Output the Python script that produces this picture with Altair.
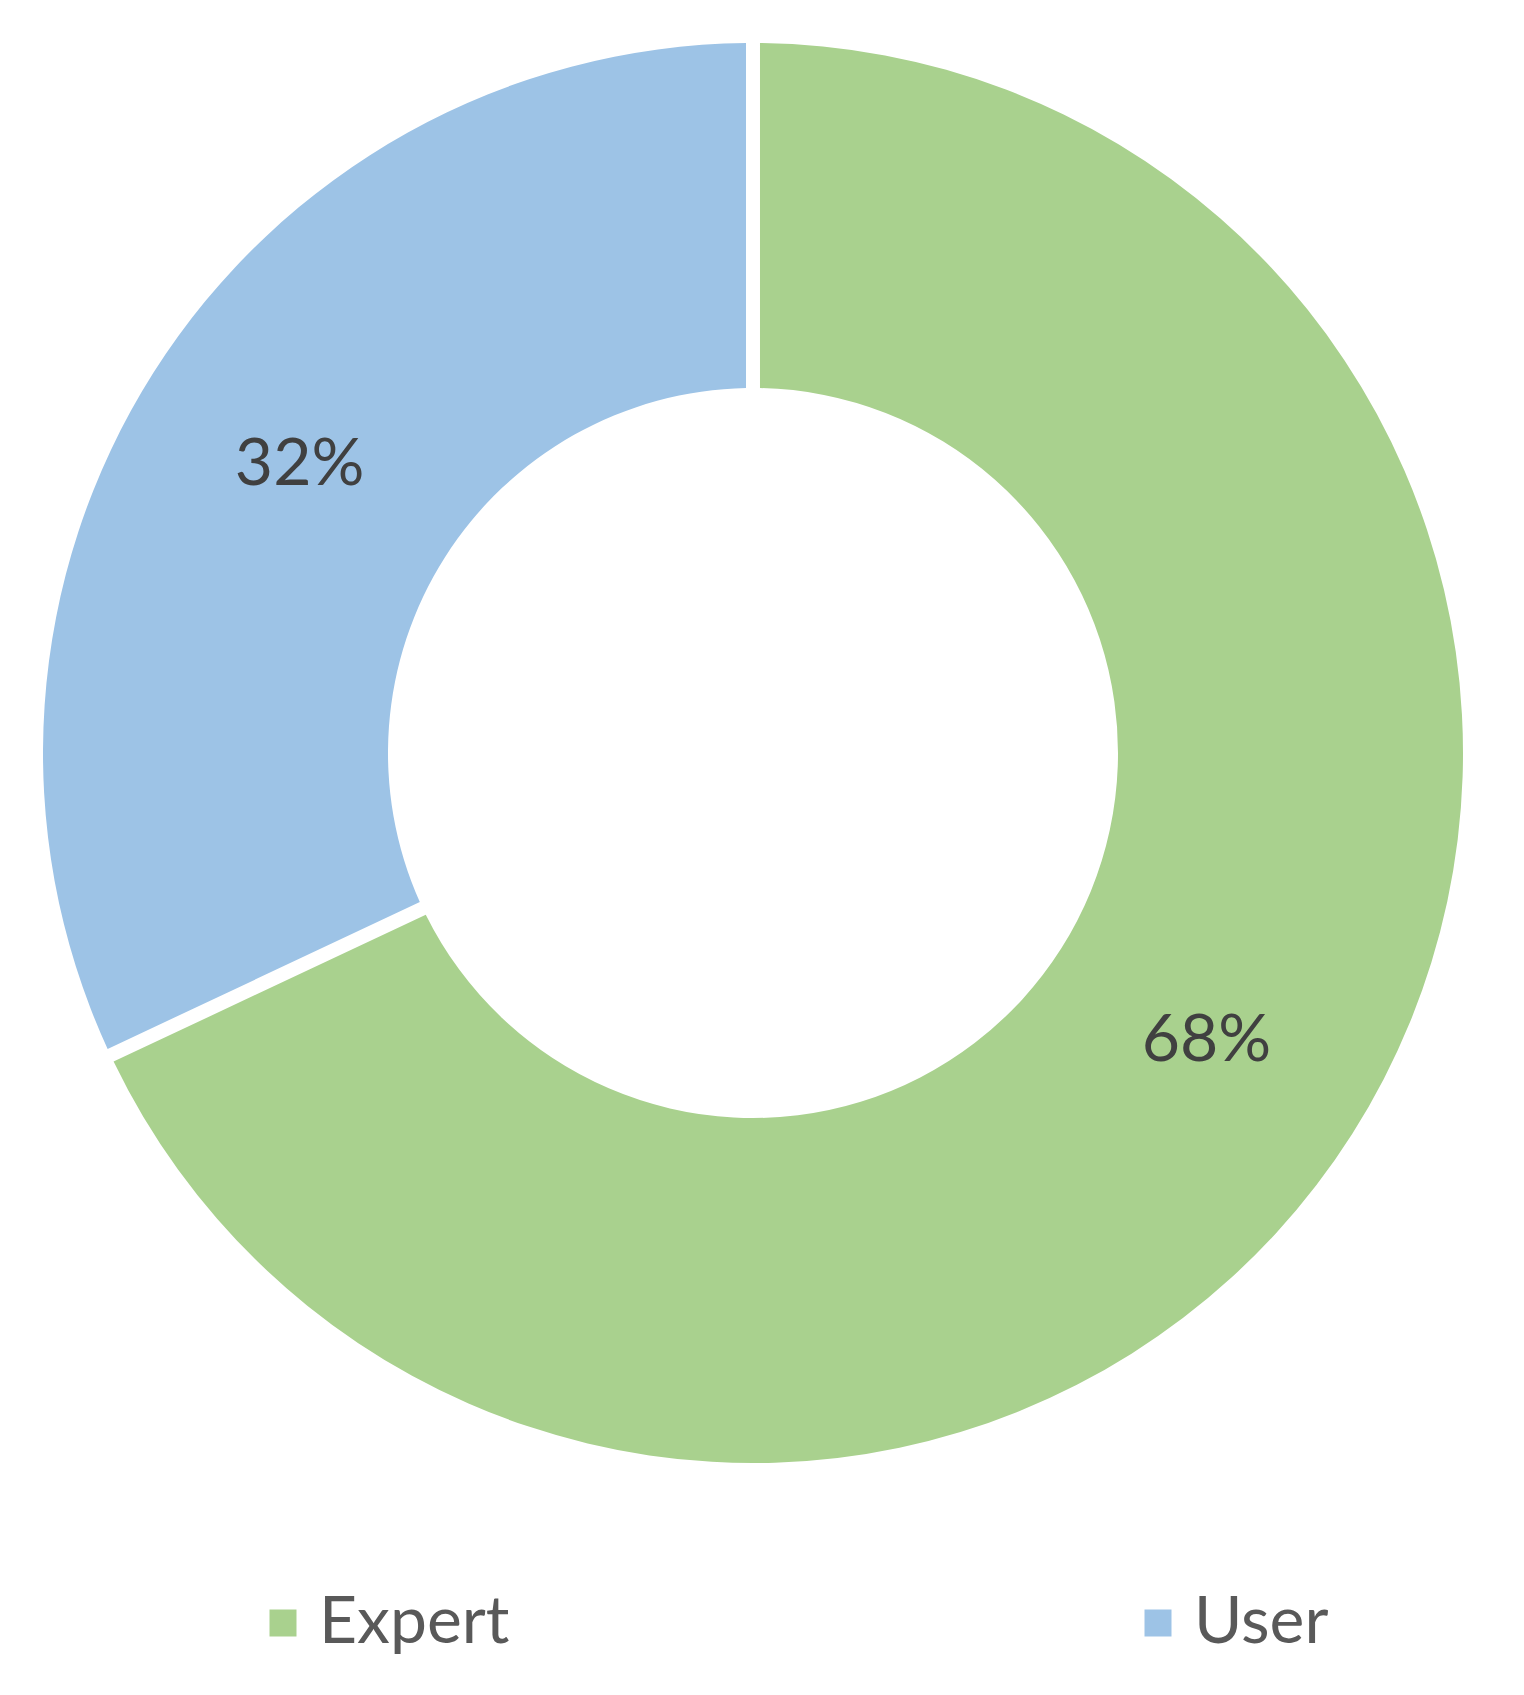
import altair as alt
import pandas as pd

categories = ["Expert", "User"]
shares = [68, 32]
labels = ["68%", "32%"]
order = [0, 1]
colors = ["#A9D18E", "#9DC3E6"]

df = pd.DataFrame({"category": categories, "share": shares, "label": labels, "order": order})

cx, cy = 745, 745

base = alt.Chart(df).encode(
    theta=alt.Theta("share:Q", stack=True),
    order=alt.Order("order:Q"),
)

arcs = base.mark_arc(outerRadius=710, innerRadius=365, padAngle=0.0175).encode(
    x=alt.value(cx), y=alt.value(cy),
    color=alt.Color(
        "category:N",
        scale=alt.Scale(domain=categories, range=colors),
        sort=categories,
        legend=alt.Legend(
            title=None, orient="none", direction="horizontal",
            legendX=242, legendY=1582, symbolType="square", symbolSize=729,
            symbolStrokeWidth=0, labelFont="Lato", labelFontSize=66,
            labelColor="#595959", labelOffset=3, columnPadding=615,
            padding=0, labelLimit=600,
        ),
    ),
)

texts = base.mark_text(radius=537, font="Lato", fontSize=66, color="#404040").encode(
    x=alt.value(cx), y=alt.value(cy),
    text="label:N",
)

chart = alt.layer(arcs, texts).properties(
    width=1508, height=1679, padding=0, autosize=alt.AutoSizeParams(type="none")
).configure_view(stroke=None)

chart.save("out.html", embed_options={"renderer": "svg", "actions": False})
